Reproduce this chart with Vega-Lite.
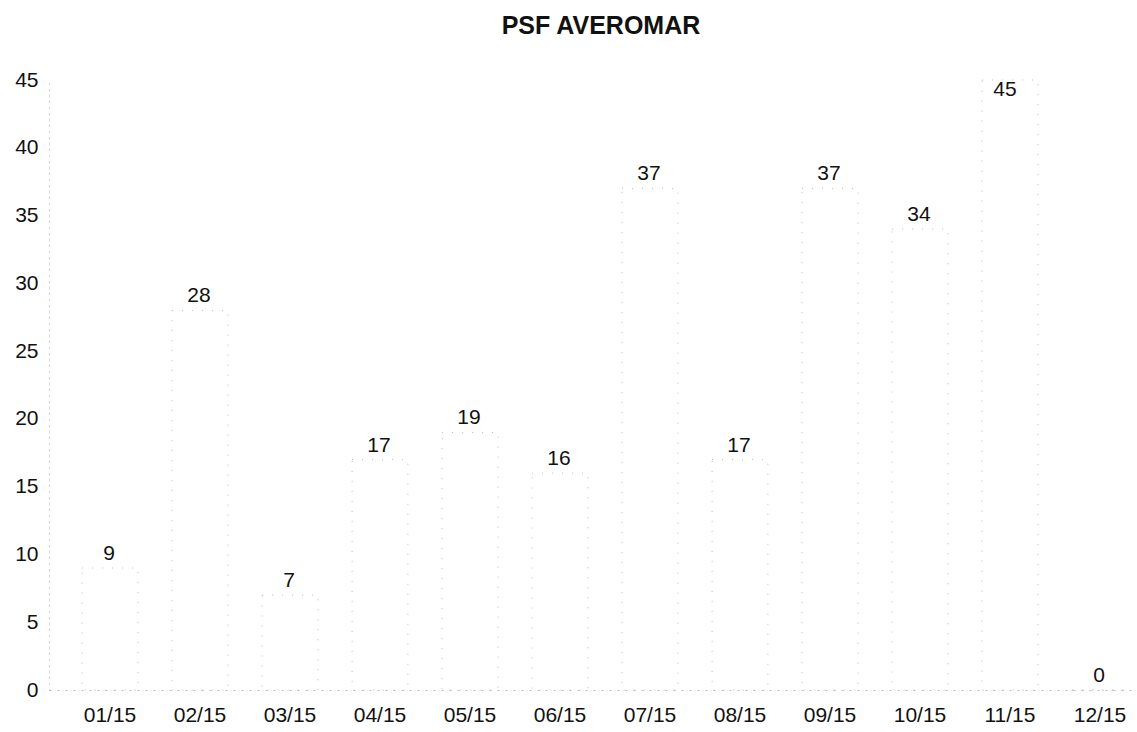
{
  "$schema": "https://vega.github.io/schema/vega-lite/v6.json",
  "width": 1088,
  "height": 610,
  "autosize": {"type": "none"},
  "padding": {"left": 49, "top": 80, "right": 0, "bottom": 42},
  "background": "white",
  "title": {
    "text": "PSF AVEROMAR",
    "font": "Liberation Sans",
    "fontSize": 25,
    "fontWeight": "bold",
    "color": "#111111",
    "anchor": "middle",
    "dx": 8,
    "offset": 30
  },
  "config": {
    "view": {"stroke": null},
    "font": "Liberation Sans"
  },
  "data": {
    "values": [
      {"month": "01/15", "count": 9},
      {"month": "02/15", "count": 28},
      {"month": "03/15", "count": 7},
      {"month": "04/15", "count": 17},
      {"month": "05/15", "count": 19},
      {"month": "06/15", "count": 16},
      {"month": "07/15", "count": 37},
      {"month": "08/15", "count": 17},
      {"month": "09/15", "count": 37},
      {"month": "10/15", "count": 34},
      {"month": "11/15", "count": 45},
      {"month": "12/15", "count": 0}
    ]
  },
  "encoding": {
    "x": {
      "field": "month",
      "type": "ordinal",
      "sort": null,
      "scale": {"paddingInner": 0.38, "paddingOuter": 0.2344, "align": 0.784},
      "axis": {
        "title": null,
        "labelAngle": 0,
        "labelFontSize": 21,
        "labelColor": "#111111",
        "labelPadding": 14,
        "ticks": false,
        "domainColor": "#bbbbbb",
        "domainDash": [2, 6]
      }
    },
    "y": {
      "field": "count",
      "type": "quantitative",
      "scale": {"domain": [0, 45], "nice": false},
      "axis": {
        "title": null,
        "values": [0, 5, 10, 15, 20, 25, 30, 35, 40, 45],
        "grid": false,
        "ticks": false,
        "labelFontSize": 21,
        "labelColor": "#111111",
        "labelPadding": 11,
        "domainColor": "#aaaaaa",
        "domainDash": [1, 5]
      }
    }
  },
  "layer": [
    {
      "mark": {
        "type": "bar",
        "fill": "white",
        "fillOpacity": 0,
        "stroke": "#bbbbbb",
        "strokeWidth": 1,
        "strokeDash": [1, 9]
      }
    },
    {
      "transform": [{"filter": "datum.count < 45"}],
      "mark": {
        "type": "text",
        "dy": -14,
        "dx": -1,
        "fontSize": 21,
        "color": "#111111",
        "baseline": "middle"
      },
      "encoding": {"text": {"field": "count", "type": "quantitative"}}
    },
    {
      "transform": [{"filter": "datum.count >= 45"}],
      "mark": {
        "type": "text",
        "dy": 10,
        "dx": -5,
        "fontSize": 21,
        "color": "#111111",
        "baseline": "middle"
      },
      "encoding": {"text": {"field": "count", "type": "quantitative"}}
    }
  ]
}
